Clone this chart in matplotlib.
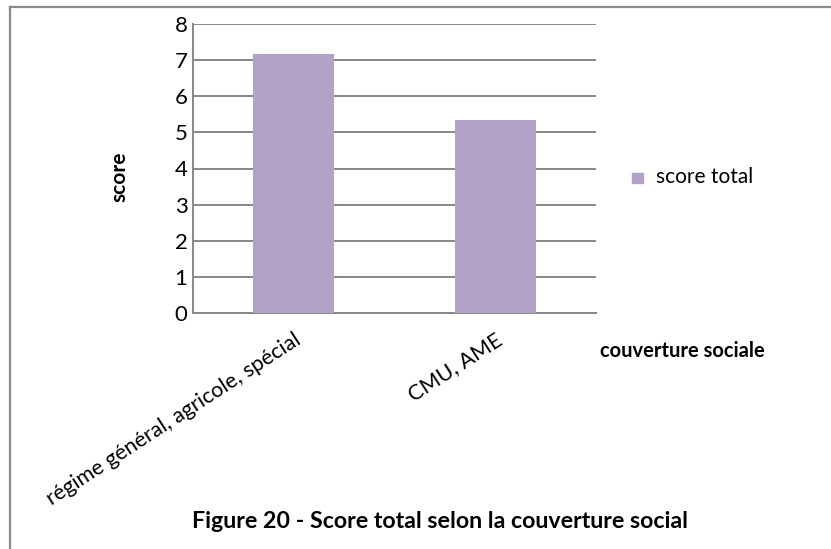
import matplotlib
matplotlib.use("Agg")
import matplotlib.pyplot as plt
from matplotlib.lines import Line2D

categories = ["régime général, agricole, spécial", "CMU, AME"]
score_total = [7.17, 5.35]
series_name = "score total"
y_ticks = [0, 1, 2, 3, 4, 5, 6, 7, 8]

FONT = "Lato"
BAR_COLOR = "#B3A2C7"
GRID_COLOR = "#878787"

W, H = 831, 549
fig = plt.figure(figsize=(W / 100, H / 100), dpi=100)
fig.patch.set_facecolor("white")

# plot area in pixel coordinates
left, right, top, bottom = 193, 596, 24, 313
ax = fig.add_axes([left / W, 1 - bottom / H, (right - left) / W, (bottom - top) / H])

x = list(range(len(categories)))
ax.bar(x, score_total, width=0.40, color=BAR_COLOR, zorder=3, label=series_name)

ax.set_xlim(-0.5, len(categories) - 0.5)
ax.set_ylim(0, 8)
ax.set_yticks(y_ticks)
ax.set_yticklabels([str(v) for v in y_ticks], fontfamily=FONT, fontsize=16)
ax.yaxis.grid(True, color=GRID_COLOR, linewidth=1.4, zorder=0)
ax.set_axisbelow(True)
ax.tick_params(axis="y", length=0, pad=4)
ax.tick_params(axis="x", length=0, pad=12)

ax.set_xticks(x)
ax.set_xticklabels(categories, rotation=33, ha="right", va="top",
                   rotation_mode="anchor", fontfamily=FONT, fontsize=15.5)

for side in ("top", "right"):
    ax.spines[side].set_visible(False)
for side in ("left", "bottom"):
    ax.spines[side].set_color(GRID_COLOR)
    ax.spines[side].set_linewidth(1.4)

# axis titles
fig.text(119 / W, 1 - 177 / H, "score", rotation=90, ha="center", va="center",
         fontfamily=FONT, fontweight="bold", fontsize=15)
fig.text(600 / W, 1 - 351 / H, "couverture sociale", ha="left", va="center",
         fontfamily=FONT, fontweight="bold", fontsize=14.5)

# legend
fig.patches.append(plt.Rectangle((632 / W, 1 - 183 / H), 11 / W, 10 / H,
                                 transform=fig.transFigure, color=BAR_COLOR))
fig.text(656 / W, 1 - 177 / H, series_name, ha="left", va="center",
         fontfamily=FONT, fontsize=15)

# caption
fig.text(440 / W, 1 - 521 / H, "Figure 20 - Score total selon la couverture social",
         ha="center", va="center", fontfamily=FONT, fontweight="bold", fontsize=16.7)

# outer frame (top and left edges)
fig.add_artist(Line2D([9.5 / W, 1], [1 - 6.5 / H, 1 - 6.5 / H], transform=fig.transFigure,
                      color="#8a8a8a", linewidth=1.6))
fig.add_artist(Line2D([9.5 / W, 9.5 / W], [1 - 6.5 / H, 0], transform=fig.transFigure,
                      color="#8a8a8a", linewidth=1.6))

fig.savefig("out.png", dpi=100, facecolor="white")
